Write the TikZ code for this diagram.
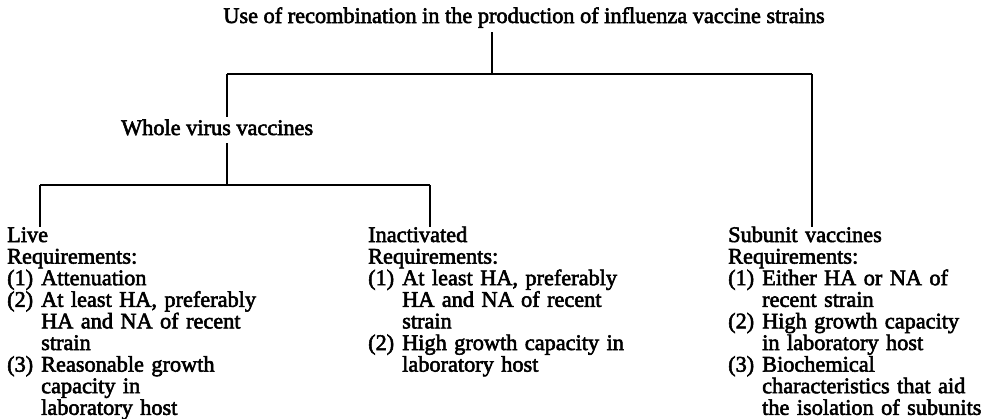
\documentclass[tikz,border=0pt]{standalone}
\usepackage{fontspec}
\newfontfamily\diafont{Liberation Serif}[FakeBold=2.5]
\newcommand{\itemlab}[1]{\makebox[34pt][l]{#1}}
\newcommand{\itemcont}{\hspace*{34pt}}
\tikzset{
  lbl/.style={font=\diafont\fontsize{22.3}{21.6}\selectfont, inner sep=0pt, text=black},
  col/.style={lbl, text width=300pt, align=left, anchor=base west},
  link/.style={line width=1.7pt, draw=black}
}
\begin{document}
\begin{tikzpicture}[x=1pt,y=1pt]
\useasboundingbox[fill=white] (0,0) rectangle (990,-418);

% title
\node[lbl, anchor=base] (title) at (524,-23) {Use of recombination in the production of influenza vaccine strains};

% top connectors
\coordinate (tA) at (492,-32);
\coordinate (tB) at (492,-74);
\coordinate (barL) at (227,-74);
\coordinate (barR) at (812,-74);
\draw[link] (tA) -- (tB);
\draw[link] (barL) -- (barR);

% whole virus branch
\coordinate (wvTop) at (227,-117);
\node[lbl, anchor=base west] (whole) at (121,-135) {Whole virus vaccines};
\coordinate (wvBot) at (227,-143);
\coordinate (midbar) at (227,-185);
\draw[link] (barL) -- (wvTop);
\draw[link] (wvBot) -- (midbar);

% lower bar
\coordinate (lowL) at (40,-185);
\coordinate (lowR) at (430,-185);
\coordinate (liveTop) at (40,-227);
\coordinate (inacTop) at (430,-227);
\draw[link] (lowL) -- (lowR);
\draw[link] (lowL) -- (liveTop);
\draw[link] (lowR) -- (inacTop);

% subunit branch
\coordinate (subTop) at (812,-227);
\draw[link] (barR) -- (subTop);

% columns
\node[col] (live) at (7,-242) {Live\\
Requirements:\\
\itemlab{(1)}Attenuation\\
\itemlab{(2)}At least HA, preferably\\
\itemcont HA and NA of recent\\
\itemcont strain\\
\itemlab{(3)}Reasonable growth\\
\itemcont capacity in\\
\itemcont laboratory host};

\node[col] (inact) at (368,-242) {Inactivated\\
Requirements:\\
\itemlab{(1)}At least HA, preferably\\
\itemcont HA and NA of recent\\
\itemcont strain\\
\itemlab{(2)}High growth capacity in\\
\itemcont laboratory host};

\node[col] (subunit) at (728,-242) {Subunit vaccines\\
Requirements:\\
\itemlab{(1)}Either HA or NA of\\
\itemcont recent strain\\
\itemlab{(2)}High growth capacity\\
\itemcont in laboratory host\\
\itemlab{(3)}Biochemical\\
\itemcont characteristics that aid\\
\itemcont the isolation of subunits};
\end{tikzpicture}
\end{document}
